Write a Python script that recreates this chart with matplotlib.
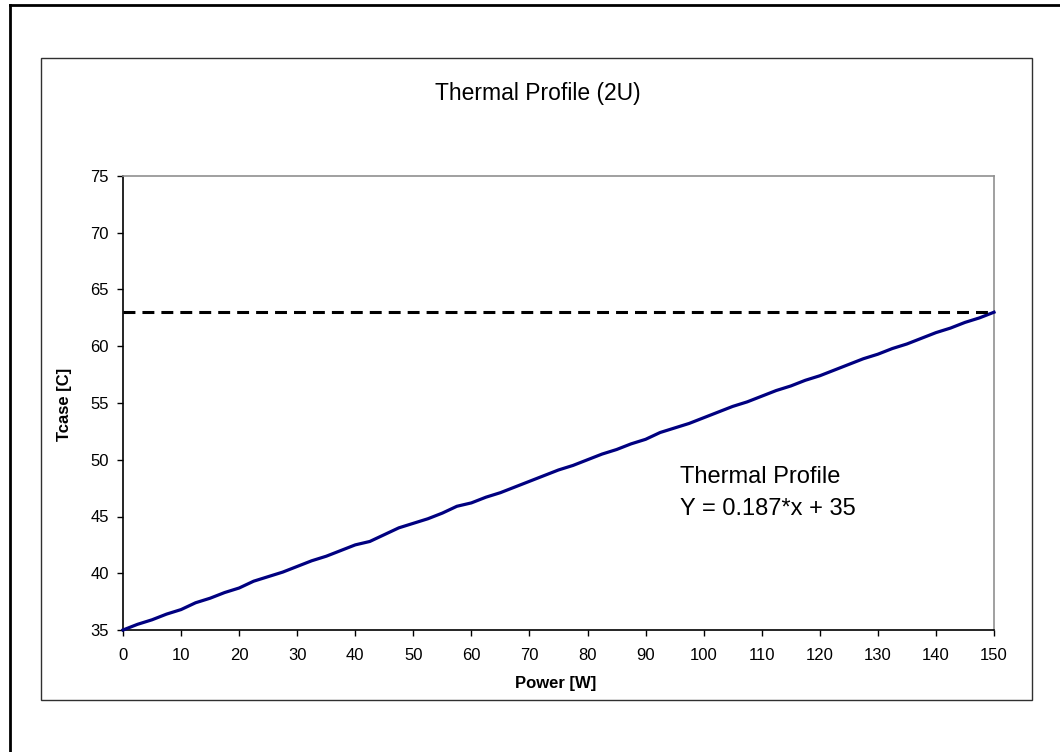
"""Thermal profile (2U) chart: Tcase vs power with the Tcase limit as a dashed line."""
import matplotlib

matplotlib.use("Agg")

import matplotlib.pyplot as plt  # noqa: E402
from matplotlib.lines import Line2D  # noqa: E402
from matplotlib.patches import Rectangle  # noqa: E402

plt.rcParams["font.family"] = ["Liberation Sans", "DejaVu Sans"]

# Values.
power_w = [
    0, 2.5, 5, 7.5, 10, 12.5, 15, 17.5, 20, 22.5, 25, 27.5, 30, 32.5, 35, 37.5,
    40, 42.5, 45, 47.5, 50, 52.5, 55, 57.5, 60, 62.5, 65, 67.5, 70, 72.5, 75,
    77.5, 80, 82.5, 85, 87.5, 90, 92.5, 95, 97.5, 100, 102.5, 105, 107.5, 110,
    112.5, 115, 117.5, 120, 122.5, 125, 127.5, 130, 132.5, 135, 137.5, 140,
    142.5, 145, 147.5, 150,
]
tcase_c = [
    35.0, 35.5, 35.9, 36.4, 36.8, 37.4, 37.8, 38.3, 38.7, 39.3, 39.7, 40.1,
    40.6, 41.1, 41.5, 42.0, 42.5, 42.8, 43.4, 44.0, 44.4, 44.8, 45.3, 45.9,
    46.2, 46.7, 47.1, 47.6, 48.1, 48.6, 49.1, 49.5, 50.0, 50.5, 50.9, 51.4,
    51.8, 52.4, 52.8, 53.2, 53.7, 54.2, 54.7, 55.1, 55.6, 56.1, 56.5, 57.0,
    57.4, 57.9, 58.4, 58.9, 59.3, 59.8, 60.2, 60.7, 61.2, 61.6, 62.1, 62.5,
    63.0,
]
tcase_limit = 63
x_ticks = list(range(0, 151, 10))
y_ticks = list(range(35, 76, 5))

W, H = 1060, 752
fig = plt.figure(figsize=(W / 100, H / 100), dpi=100)

# Outer frame (only top and left edges fall inside the image) and chart-area box.
fig.add_artist(Line2D([10 / W, 1], [1 - 5 / H, 1 - 5 / H], transform=fig.transFigure,
                      color="black", lw=2))
fig.add_artist(Line2D([10 / W, 10 / W], [0, 1 - 5 / H], transform=fig.transFigure,
                      color="black", lw=2))
fig.add_artist(Rectangle((41 / W, 1 - 700 / H), (1032 - 41) / W, (700 - 58) / H,
                         transform=fig.transFigure, fill=False, edgecolor="#303030", lw=1))

ax = fig.add_axes([123 / W, 1 - 630 / H, (994 - 123) / W, (630 - 176) / H])
ax.plot(power_w, tcase_c, color="#000080", lw=2.3, solid_joinstyle="round",
        clip_on=False, zorder=3)
ax.hlines(tcase_limit, power_w[0], power_w[-1], color="black", lw=2.2,
          linestyle=(0, (3.9, 2.3)), clip_on=False, zorder=4)

ax.set_xlim(0, 150)
ax.set_ylim(35, 75)
ax.set_xticks(x_ticks)
ax.set_yticks(y_ticks)
ax.tick_params(direction="out", length=4, width=1, labelsize=12, colors="black")
ax.tick_params(axis="x", pad=9)
ax.tick_params(axis="y", pad=6)

for side in ("left", "bottom"):
    ax.spines[side].set_color("black")
    ax.spines[side].set_linewidth(1.2)
for side in ("top", "right"):
    ax.spines[side].set_color("#909090")
    ax.spines[side].set_linewidth(1.2)

ax.text(95.9, 47.95, "Thermal Profile", fontsize=17, va="baseline", ha="left")
ax.text(95.9, 45.13, "Y = 0.187*x + 35", fontsize=17, va="baseline", ha="left")

fig.text(538 / W, 1 - 100 / H, "Thermal Profile (2U)", fontsize=16.5,
         ha="center", va="baseline")
fig.text(556 / W, 1 - 688 / H, "Power [W]", fontsize=12, fontweight="bold",
         ha="center", va="baseline")
fig.text(65 / W, 1 - 404 / H, "Tcase [C]", fontsize=12, fontweight="bold",
         rotation=90, ha="center", va="center")

fig.savefig("out.png", dpi=100)
